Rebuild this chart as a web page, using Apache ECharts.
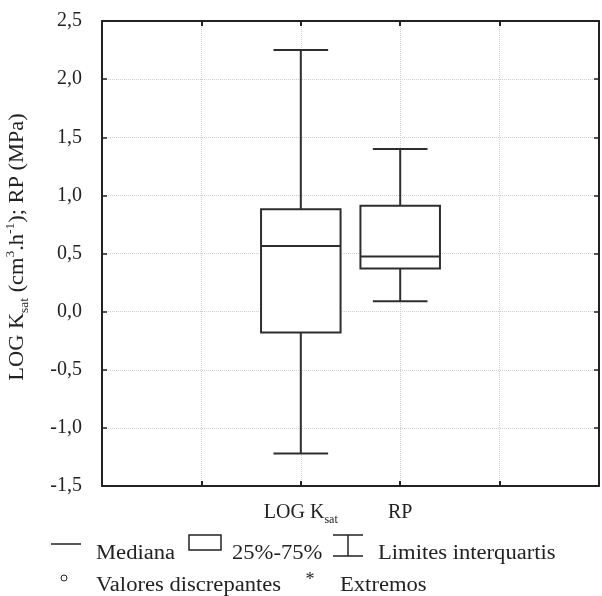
<!DOCTYPE html>
<html><head><meta charset="utf-8">
<script src="https://cdn.jsdelivr.net/npm/echarts@6/dist/echarts.min.js"></script>
<style>html,body{margin:0;padding:0;background:#fff}#c{width:602px;height:596px}</style>
</head><body><div id="c"></div>
<script>
// ---- data ----
const categories = ['', '', 'LOG Ksat', 'RP', '', ''];
const boxCategories = ['LOG Ksat', 'RP'];
const minValues = [-1.22, 0.09];
const q1Values = [-0.18, 0.37];
const medianValues = [0.565, 0.475];
const q3Values = [0.88, 0.91];
const maxValues = [2.25, 1.40];
const yMin = -1.5, yMax = 2.5, yStep = 0.5;
const legendLabels = ['Mediana', '25%-75%', 'Limites interquartis', 'Valores discrepantes', 'Extremos'];

const FONT = '"Liberation Serif", "Times New Roman", serif';
const INK = '#222';
const BOX = '#2e2e2e';
const GRIDC = '#cfcfcf';

const chart = echarts.init(document.getElementById('c'), null, {renderer: 'canvas'});

const richBase = {
  m: {fontFamily: FONT, fontSize: 20, fontWeight: 'normal', lineHeight: 26, color: INK},
  s: {fontFamily: FONT, fontSize: 12, fontWeight: 'normal', lineHeight: 12, color: INK, verticalAlign: 'bottom'},
  p: {fontFamily: FONT, fontSize: 12, fontWeight: 'normal', lineHeight: 12, color: INK, verticalAlign: 'top'}
};
// zrender-level rich styles (graphic elements use fill instead of color)
const richRaw = {
  m: {fontFamily: FONT, fontSize: 20, fontWeight: 'normal', lineHeight: 26, fill: INK, stroke: null, lineWidth: 0},
  s: {fontFamily: FONT, fontSize: 12, fontWeight: 'normal', lineHeight: 12, fill: INK, stroke: null, lineWidth: 0, verticalAlign: 'bottom'},
  p: {fontFamily: FONT, fontSize: 12, fontWeight: 'normal', lineHeight: 12, fill: INK, stroke: null, lineWidth: 0, verticalAlign: 'top'}
};

const boxData = boxCategories.map((c, i) => [categories.indexOf(c), minValues[i], q1Values[i], medianValues[i], q3Values[i], maxValues[i]]);

const lineTxt = (x, y, txt) => ({
  type: 'text', x: x, y: y, scaleX: 1.13,
  style: {text: txt, fontFamily: FONT, fontSize: 20, fontWeight: 'normal', fill: INK, align: 'left', verticalAlign: 'middle'}
});

const option = {
  backgroundColor: '#fff',
  animation: false,
  grid: {left: 102, right: 1, top: 21, bottom: 110, containLabel: false},
  xAxis: [{
    type: 'category', data: categories, boundaryGap: false, position: 'bottom',
    axisLine: {show: true, onZero: false, lineStyle: {color: INK, width: 2}},
    axisTick: {show: true, inside: true, length: 5, interval: 0, lineStyle: {color: INK, width: 2}},
    axisLabel: {
      interval: 0, margin: 14,
      formatter: v => v === 'LOG Ksat' ? '{m|LOG K}{s|sat}' : (v ? '{m|' + v + '}' : ''),
      rich: richBase
    },
    splitLine: {show: true, interval: 0, lineStyle: {color: GRIDC, type: 'dotted', width: 1}}
  }, {
    type: 'category', data: categories, boundaryGap: false, position: 'top',
    axisLine: {show: true, onZero: false, lineStyle: {color: INK, width: 2}},
    axisTick: {show: true, inside: true, length: 5, interval: 0, lineStyle: {color: INK, width: 2}},
    axisLabel: {show: false}, splitLine: {show: false}
  }],
  yAxis: [{
    type: 'value', min: yMin, max: yMax, interval: yStep, position: 'left',
    axisLine: {show: true, onZero: false, lineStyle: {color: INK, width: 2}},
    axisTick: {show: true, inside: true, length: 5, lineStyle: {color: INK, width: 1.5}},
    axisLabel: {margin: 20, fontFamily: FONT, fontSize: 20, color: INK,
      formatter: v => v.toFixed(1).replace('.', ',')},
    splitLine: {show: true, lineStyle: {color: GRIDC, type: 'dotted', width: 1}}
  }, {
    type: 'value', min: yMin, max: yMax, interval: yStep, position: 'right',
    axisLine: {show: true, onZero: false, lineStyle: {color: INK, width: 2}},
    axisTick: {show: true, inside: true, length: 5, lineStyle: {color: INK, width: 1.5}},
    axisLabel: {show: false}, splitLine: {show: false}
  }],
  series: [{
    type: 'custom',
    xAxisIndex: 0, yAxisIndex: 0,
    encode: {x: 0, y: [1, 2, 3, 4, 5]},
    data: boxData,
    renderItem: function (params, api) {
      const x = api.value(0);
      const pMin = api.coord([x, api.value(1)]);
      const pQ1 = api.coord([x, api.value(2)]);
      const pMed = api.coord([x, api.value(3)]);
      const pQ3 = api.coord([x, api.value(4)]);
      const pMax = api.coord([x, api.value(5)]);
      const band = api.size([1, 0])[0];
      const bw = band * 0.8, cw = band * 0.55;
      const cx = pMin[0];
      const st = {stroke: BOX, lineWidth: 2, fill: null};
      return {type: 'group', children: [
        {type: 'line', shape: {x1: cx, y1: pMax[1], x2: cx, y2: pQ3[1]}, style: st},
        {type: 'line', shape: {x1: cx, y1: pQ1[1], x2: cx, y2: pMin[1]}, style: st},
        {type: 'line', shape: {x1: cx - cw / 2, y1: pMax[1], x2: cx + cw / 2, y2: pMax[1]}, style: st},
        {type: 'line', shape: {x1: cx - cw / 2, y1: pMin[1], x2: cx + cw / 2, y2: pMin[1]}, style: st},
        {type: 'rect', shape: {x: cx - bw / 2, y: pQ3[1], width: bw, height: pQ1[1] - pQ3[1]},
          style: {stroke: BOX, lineWidth: 2, fill: '#fff'}},
        {type: 'line', shape: {x1: cx - bw / 2, y1: pMed[1], x2: cx + bw / 2, y2: pMed[1]}, style: st}
      ]};
    }
  }],
  graphic: [
    // y axis name
    {type: 'text', x: 18, y: 247, rotation: Math.PI / 2, scaleX: 1.12,
      style: {text: '{m|LOG K}{s|sat}{m| (cm}{p|3}{m|.h}{p|-1}{m|); RP (MPa)}',
        rich: richRaw, fill: INK, stroke: null, lineWidth: 0, fontWeight: 'normal',
        align: 'center', verticalAlign: 'middle'}},
    // legend row 1
    {type: 'line', shape: {x1: 51, y1: 544, x2: 81, y2: 544}, style: {stroke: INK, lineWidth: 1.5}},
    lineTxt(96, 554, legendLabels[0]),
    {type: 'rect', shape: {x: 189, y: 535, width: 32, height: 15}, style: {stroke: INK, lineWidth: 1.5, fill: '#fff'}},
    lineTxt(232, 554, legendLabels[1]),
    {type: 'line', shape: {x1: 333, y1: 535, x2: 363, y2: 535}, style: {stroke: INK, lineWidth: 1.5}},
    {type: 'line', shape: {x1: 348, y1: 535, x2: 348, y2: 556}, style: {stroke: INK, lineWidth: 1.5}},
    {type: 'line', shape: {x1: 333, y1: 556, x2: 363, y2: 556}, style: {stroke: INK, lineWidth: 1.5}},
    lineTxt(378, 554, legendLabels[2]),
    // legend row 2
    {type: 'circle', shape: {cx: 64, cy: 578, r: 3}, style: {stroke: INK, lineWidth: 1, fill: '#fff'}},
    lineTxt(96, 586, legendLabels[3]),
    {type: 'text', x: 310, y: 580, style: {text: '*', fontFamily: FONT, fontSize: 18, fill: INK, align: 'center', verticalAlign: 'middle'}},
    lineTxt(340, 586, legendLabels[4])
  ]
};
chart.setOption(option);
</script>
</body></html>
